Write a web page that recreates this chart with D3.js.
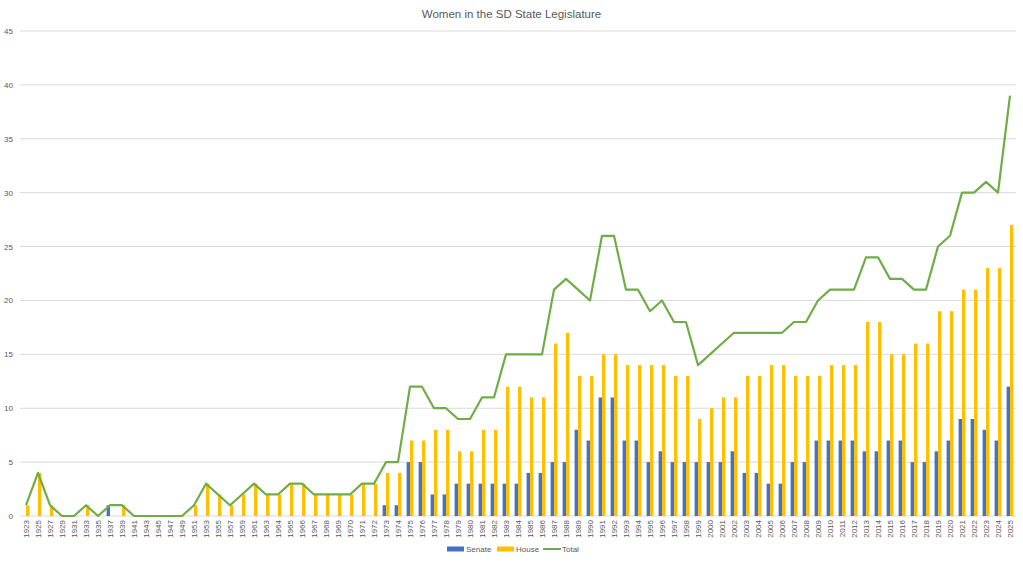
<!DOCTYPE html>
<html>
<head>
<meta charset="utf-8">
<script src="https://cdn.jsdelivr.net/npm/d3@7"></script>
<style>
  body { margin: 0; background: #fff; }
  text { font-family: "Liberation Sans", Arial, sans-serif; }
</style>
</head>
<body>
<div id="chart"></div>
<script>
const years = [
  "1923","1925","1927","1929","1931","1933","1935","1937","1939","1941",
  "1943","1945","1947","1949","1951","1953","1955","1957","1959","1961",
  "1963","1964","1965","1966","1967","1968","1969","1970","1971","1972",
  "1973","1974","1975","1976","1977","1978","1979","1980","1981","1982",
  "1983","1984","1985","1986","1987","1988","1989","1990","1991","1992",
  "1993","1994","1995","1996","1997","1998","1999","2000","2001","2002",
  "2003","2004","2005","2006","2007","2008","2009","2010","2011","2012",
  "2013","2014","2015","2016","2017","2018","2019","2020","2021","2022",
  "2023","2024","2025"
];

const senate = [
  0,0,0,0,0,0,0,1,0,0,
  0,0,0,0,0,0,0,0,0,0,
  0,0,0,0,0,0,0,0,0,0,
  1,1,5,5,2,2,3,3,3,3,
  3,3,4,4,5,5,8,7,11,11,
  7,7,5,6,5,5,5,5,5,6,
  4,4,3,3,5,5,7,7,7,7,
  6,6,7,7,5,5,6,7,9,9,
  8,7,12
];

const house = [
  1,4,1,0,0,1,0,0,1,0,
  0,0,0,0,1,3,2,1,2,3,
  2,2,3,3,2,2,2,2,3,3,
  4,4,7,7,8,8,6,6,8,8,
  12,12,11,11,16,17,13,13,15,15,
  14,14,14,14,13,13,9,10,11,11,
  13,13,14,14,13,13,13,14,14,14,
  18,18,15,15,16,16,19,19,21,21,
  23,23,27
];

const total = [
  1,4,1,0,0,1,0,1,1,0,
  0,0,0,0,1,3,2,1,2,3,
  2,2,3,3,2,2,2,2,3,3,
  5,5,12,12,10,10,9,9,11,11,
  15,15,15,15,21,22,21,20,26,26,
  21,21,19,20,18,18,14,15,16,17,
  17,17,17,17,18,18,20,21,21,21,
  24,24,22,22,21,21,25,26,30,30,
  31,30,39
];

const yTicks = [0,5,10,15,20,25,30,35,40,45];

const width = 1023, height = 562;
const margin = { top: 31, right: 7, bottom: 46, left: 20 };

const svg = d3.select("#chart").append("svg")
  .attr("width", width).attr("height", height);

const x = d3.scaleBand()
  .domain(years)
  .range([margin.left, width - margin.right]);

const y = d3.scaleLinear()
  .domain([0, 45])
  .range([height - margin.bottom, margin.top]);

// gridlines
svg.append("g")
  .selectAll("line")
  .data(yTicks)
  .join("line")
  .attr("x1", margin.left).attr("x2", width - margin.right)
  .attr("y1", d => y(d)).attr("y2", d => y(d))
  .attr("stroke", "#d9d9d9").attr("stroke-width", 1);

// y labels
svg.append("g")
  .selectAll("text")
  .data(yTicks)
  .join("text")
  .attr("x", 13).attr("y", d => y(d) + 3)
  .attr("text-anchor", "end")
  .attr("font-size", "8px").attr("fill", "#595959")
  .text(d => d);

const barW = 3.4;

svg.append("g")
  .selectAll("rect")
  .data(years)
  .join("rect")
  .attr("x", d => x(d) + x.bandwidth() / 2 - barW)
  .attr("width", barW)
  .attr("y", (d, i) => y(senate[i]))
  .attr("height", (d, i) => y(0) - y(senate[i]))
  .attr("fill", "#4472C4");

svg.append("g")
  .selectAll("rect")
  .data(years)
  .join("rect")
  .attr("x", d => x(d) + x.bandwidth() / 2)
  .attr("width", barW)
  .attr("y", (d, i) => y(house[i]))
  .attr("height", (d, i) => y(0) - y(house[i]))
  .attr("fill", "#FFC000");

const line = d3.line()
  .x((d, i) => x(years[i]) + x.bandwidth() / 2)
  .y(d => y(d));

svg.append("path")
  .datum(total)
  .attr("d", line)
  .attr("fill", "none")
  .attr("stroke", "#70AD47")
  .attr("stroke-width", 2.2)
  .attr("stroke-linejoin", "round");

// x labels
svg.append("g")
  .selectAll("text")
  .data(years)
  .join("text")
  .attr("transform", d => `translate(${x(d) + x.bandwidth() / 2 + 3},${y(0) + 4}) rotate(-90)`)
  .attr("text-anchor", "end")
  .attr("font-size", "8px").attr("fill", "#595959")
  .text(d => d);

// title
svg.append("text")
  .attr("x", width / 2).attr("y", 18)
  .attr("text-anchor", "middle")
  .attr("font-size", "11.5px").attr("fill", "#595959")
  .text("Women in the SD State Legislature");

// legend
const legend = [
  { name: "Senate", color: "#4472C4", type: "rect", x: 447 },
  { name: "House", color: "#FFC000", type: "rect", x: 497 },
  { name: "Total", color: "#70AD47", type: "line", x: 543 }
];
const lg = svg.append("g").selectAll("g").data(legend).join("g")
  .attr("transform", d => `translate(${d.x},549)`);
lg.filter(d => d.type === "rect").append("rect")
  .attr("x", 0).attr("y", -2.5).attr("width", 17).attr("height", 5)
  .attr("fill", d => d.color);
lg.filter(d => d.type === "line").append("line")
  .attr("x1", 0).attr("x2", 18).attr("y1", 0).attr("y2", 0)
  .attr("stroke", d => d.color).attr("stroke-width", 2);
lg.append("text")
  .attr("x", 19).attr("y", 3)
  .attr("font-size", "8px").attr("fill", "#595959")
  .text(d => d.name);
</script>
</body>
</html>
